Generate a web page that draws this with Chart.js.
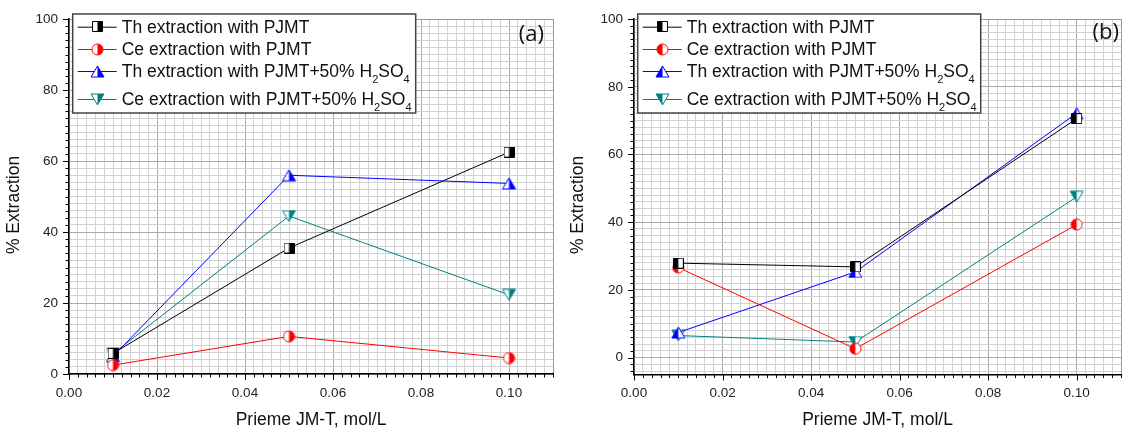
<!DOCTYPE html>
<html>
<head>
<meta charset="utf-8">
<script src="https://cdn.jsdelivr.net/npm/chart.js@4.4.1/dist/chart.umd.min.js"></script>
<style>
  html, body { margin: 0; padding: 0; background: #fff; }
  #wrap { position: relative; width: 1132px; height: 433px; overflow: hidden; }
  #wrap canvas { position: absolute; top: 0; }
  #chartA { left: 0; }
  #chartB { left: 564px; }
</style>
</head>
<body>
<div id="wrap">
  <canvas id="chartA" width="564" height="433"></canvas>
  <canvas id="chartB" width="568" height="433"></canvas>
</div>
<script>
/* Extraction vs Prieme JM-T concentration, two panels (a) and (b) */

// x positions (mol/L) shared by every series
const CONC = [0.01, 0.05, 0.10];

const X_TICK_LABELS = ['0.00', '0.02', '0.04', '0.06', '0.08', '0.10'];
const Y_TICK_LABELS = ['0', '20', '40', '60', '80', '100'];

const SERIES_LABELS = [
  'Th extraction with PJMT',
  'Ce extraction with PJMT',
  'Th extraction with PJMT+50% H₂SO₄',
  'Ce extraction with PJMT+50% H₂SO₄',
];

// panel (a)
const A_TH_PJMT = [5.8, 35.5, 62.5];
const A_CE_PJMT = [2.5, 10.6, 4.5];
const A_TH_ACID = [5.0, 56.0, 53.7];
const A_CE_ACID = [5.7, 44.5, 22.3];

// panel (b)
const B_TH_PJMT = [27.9, 26.8, 70.6];
const B_CE_PJMT = [26.6, 2.6, 39.3];
const B_TH_ACID = [7.4, 25.3, 72.2];
const B_CE_ACID = [6.5, 4.6, 47.5];

const X_TITLE = 'Prieme JM-T, mol/L';
const Y_TITLE = '% Extraction';

(function () {
  'use strict';

  const FONT = "'Liberation Sans', Arial, Helvetica, sans-serif";
  const COLORS = ['#000000', '#ff0000', '#0000ff', '#008080'];
  const SHAPES = ['square', 'circle', 'up', 'down'];

  const X_MINOR = 0.002, X_MAJOR = 0.02;
  const Y_MINOR = 2, Y_MAJOR = 20;

  const onStep = (v, step) => Math.abs(v / step - Math.round(v / step)) < 1e-6;

  // half filled Origin-style symbols
  function makeMarker(shape, color, side) {
    const dims = { square: [11, 11], circle: [13, 13], up: [15, 13], down: [15, 13] }[shape];
    const w = dims[0], h = dims[1];
    const c = document.createElement('canvas');
    c.width = w; c.height = h;
    const g = c.getContext('2d');
    const path = () => {
      g.beginPath();
      if (shape === 'square') g.rect(0.5, 0.5, w - 1, h - 1);
      else if (shape === 'circle') g.arc(w / 2, h / 2, w / 2 - 1, 0, Math.PI * 2);
      else if (shape === 'up') { g.moveTo(w / 2, 1); g.lineTo(w - 1, h - 1); g.lineTo(1, h - 1); g.closePath(); }
      else { g.moveTo(1, 1); g.lineTo(w - 1, 1); g.lineTo(w / 2, h - 1); g.closePath(); }
    };
    path(); g.fillStyle = '#fff'; g.fill();
    g.save();
    g.beginPath();
    g.rect(side === 'left' ? 0 : w / 2, 0, w / 2, h);
    g.clip();
    path(); g.fillStyle = color; g.fill();
    g.restore();
    path(); g.strokeStyle = color; g.lineWidth = 1; g.stroke();
    return c;
  }

  function datasets(series, side) {
    return series.map((vals, i) => ({
      label: SERIES_LABELS[i],
      data: CONC.map((x, j) => ({ x, y: vals[j] })),
      borderColor: COLORS[i],
      backgroundColor: COLORS[i],
      borderWidth: 1,
      tension: 0,
      pointStyle: makeMarker(SHAPES[i], COLORS[i], side),
      pointRadius: 5,
      pointHoverRadius: 5,
    }));
  }

  function gridColor(v, major, max) {
    if (Math.abs(v - max) < 1e-9) return '#9a9a9a';
    if (onStep(v, major)) return '#ababab';
    return '#d2d2d2';
  }

  // draw text, rendering unicode subscript digits as small lowered digits
  function drawRich(g, text, x, y, size) {
    const parts = text.split(/([₀-₉]+)/);
    parts.forEach((p) => {
      if (!p) return;
      if (/^[₀-₉]+$/.test(p)) {
        const s = p.replace(/[₀-₉]/g, (ch) => String(ch.charCodeAt(0) - 0x2080));
        g.font = Math.round(size * 0.63) + 'px ' + FONT;
        g.fillText(s, x, y + 8);
        x += g.measureText(s).width;
      } else {
        g.font = size + 'px ' + FONT;
        g.fillText(p, x, y);
        x += g.measureText(p).width;
      }
    });
  }

  const decor = {
    id: 'decor',
    afterDraw(chart, args, o) {
      const g = chart.ctx, a = chart.chartArea;
      const xs = chart.scales.x, ys = chart.scales.y;
      g.save();

      // outward tick marks, long on majors
      g.strokeStyle = '#000';
      g.lineWidth = 1;
      xs.ticks.forEach((t) => {
        if (!onStep(t.value, X_MINOR)) return;
        const px = Math.round(xs.getPixelForValue(t.value)) + 0.5;
        const len = onStep(t.value, X_MAJOR) ? 6 : 3.5;
        g.beginPath(); g.moveTo(px, a.bottom); g.lineTo(px, a.bottom + len); g.stroke();
      });
      ys.ticks.forEach((t) => {
        if (!onStep(t.value, Y_MINOR)) return;
        const py = Math.round(ys.getPixelForValue(t.value)) + 0.5;
        const len = onStep(t.value, Y_MAJOR) ? 6 : 3.5;
        g.beginPath(); g.moveTo(a.left, py); g.lineTo(a.left - len, py); g.stroke();
      });

      // y axis title, sitting a little below the middle like the original
      g.save();
      g.translate(14, 205);
      g.rotate(-Math.PI / 2);
      g.font = '17.5px ' + FONT;
      g.fillStyle = '#111';
      g.textAlign = 'center';
      g.textBaseline = 'middle';
      g.fillText(Y_TITLE, 0, 0);
      g.restore();

      // legend box
      const bx = a.left + 3.7, by = 14, bw = 343, bh = 99;
      g.fillStyle = '#fff';
      g.fillRect(bx, by, bw, bh);
      g.strokeStyle = '#444';
      g.lineWidth = 1.5;
      g.strokeRect(bx, by, bw, bh);
      const rows = [12.7, 35, 57, 85];
      chart.data.datasets.forEach((ds, i) => {
        const ry = by + rows[i];
        g.strokeStyle = ds.borderColor;
        g.lineWidth = 1;
        g.beginPath(); g.moveTo(bx + 5, ry + 0.5); g.lineTo(bx + 44, ry + 0.5); g.stroke();
        const m = ds.pointStyle;
        g.drawImage(m, Math.round(bx + 25 - m.width / 2), Math.round(ry - m.height / 2));
        g.fillStyle = '#111';
        g.textBaseline = 'middle';
        g.textAlign = 'left';
        drawRich(g, ds.label, bx + 49, ry + 1, 17.5);
      });

      // panel tag
      g.font = '22px "Open Sans", ' + FONT;
      g.fillStyle = '#111';
      g.textAlign = 'right';
      g.textBaseline = 'middle';
      g.fillText(o.tag, a.right - o.tagInset, o.tagY);

      g.restore();
    },
  };

  function buildTicks(min, max, step) {
    const out = [{ value: min }];
    let i = Math.floor(min / step + 1e-9) + 1;
    for (; i * step <= max + 1e-9; i++) out.push({ value: +(i * step).toFixed(4) });
    if (Math.abs(out[out.length - 1].value - max) > 1e-9) out.push({ value: max });
    return out;
  }

  function makeChart(canvas, series, side, opts) {
    return new Chart(canvas.getContext('2d'), {
      type: 'line',
      data: { datasets: datasets(series, side) },
      plugins: [decor],
      options: {
        responsive: false,
        animation: false,
        layout: { padding: { left: 0, top: opts.top, right: opts.right, bottom: 0 } },
        plugins: {
          legend: { display: false },
          tooltip: { enabled: false },
          decor: { tag: opts.tag, tagInset: opts.tagInset, tagY: opts.tagY },
        },
        scales: {
          x: {
            type: 'linear', min: 0, max: 0.11,
            afterBuildTicks: (s) => { s.ticks = buildTicks(0, 0.11, X_MINOR); },
            afterFit: (s) => { s.height = 433 - opts.bottom; },
            grid: { color: (c) => gridColor(c.tick.value, X_MAJOR, 0.11), drawTicks: false, lineWidth: 1 },
            border: { display: true, color: '#000', width: 1.5 },
            ticks: {
              autoSkip: false, maxRotation: 0, padding: 11, color: '#222',
              font: { family: FONT, size: 13.5 },
              callback: (v) => {
                const s = Number(v).toFixed(2);
                return onStep(v, X_MAJOR) && X_TICK_LABELS.includes(s) ? s : '';
              },
            },
            title: {
              display: true, text: X_TITLE, color: '#111',
              font: { family: FONT, size: 17.5 }, padding: { top: 0, bottom: 2 },
            },
          },
          y: {
            type: 'linear', min: opts.ymin, max: 100,
            afterBuildTicks: (s) => { s.ticks = buildTicks(opts.ymin, 100, Y_MINOR); },
            afterFit: (s) => { s.width = opts.left; },
            grid: { color: (c) => gridColor(c.tick.value, Y_MAJOR, 100), drawTicks: false, lineWidth: 1 },
            border: { display: true, color: '#000', width: 1.5 },
            ticks: {
              autoSkip: false, padding: 11, color: '#222',
              font: { family: FONT, size: 13.5 },
              callback: (v) => {
                const s = String(Math.round(v));
                return onStep(v, Y_MAJOR) && Y_TICK_LABELS.includes(s) ? s : '';
              },
            },
          },
        },
      },
    });
  }

  function init() {
    makeChart(document.getElementById('chartA'),
      [A_TH_PJMT, A_CE_PJMT, A_TH_ACID, A_CE_ACID], 'right',
      { left: 69, right: 5, top: 13, bottom: 374, ymin: 0, tag: '(a)', tagInset: 9, tagY: 35 });
    makeChart(document.getElementById('chartB'),
      [B_TH_PJMT, B_CE_PJMT, B_TH_ACID, B_CE_ACID], 'left',
      { left: 70, right: 5, top: 12.5, bottom: 374.5, ymin: -5, tag: '(b)', tagInset: 2, tagY: 33 });
  }

  if (document.readyState === 'loading') document.addEventListener('DOMContentLoaded', init);
  else init();
})();
</script>
</body>
</html>
